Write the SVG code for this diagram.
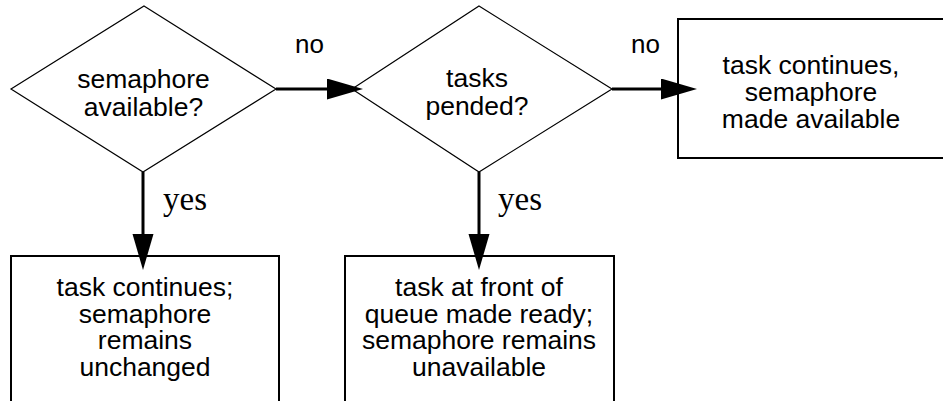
<svg xmlns="http://www.w3.org/2000/svg" width="943" height="401" viewBox="0 0 943 401">
<style>
.bg{fill:#fff}
.dia{fill:#fff;stroke:#000;stroke-width:1.2}
.box{fill:#fff;stroke:#000;stroke-width:2}
.t{font-family:"Liberation Sans",Arial,sans-serif;font-size:26.5px;fill:#000;text-anchor:middle}
.lbl{font-family:"Liberation Sans",Arial,sans-serif;font-size:26px;fill:#000}
.yes{font-family:"Liberation Serif","Times New Roman",serif;font-size:33px;fill:#000}
.con{fill:none;stroke:#000;stroke-width:3;marker-end:url(#ah)}
</style>
<defs>
<marker id="ah" markerUnits="userSpaceOnUse" markerWidth="36" markerHeight="22" refX="21" refY="10.5" orient="auto">
<path d="M0,0 L36,10.5 L0,21 z" fill="#000"/>
</marker>
</defs>
<rect class="bg" x="0" y="0" width="943" height="401"/>
<g id="d1">
<polygon class="dia" points="144,6 276,89 143,172 11,89"/>
<text class="t" x="143.5" y="88">semaphore</text>
<text class="t" x="143.5" y="116">available?</text>
</g>
<g id="d2">
<polygon class="dia" points="479,6 612,89 479,172 352,89"/>
<text class="t" x="477" y="87">tasks</text>
<text class="t" x="477" y="115">pended?</text>
</g>
<g id="b3">
<rect class="box" x="678" y="19" width="300" height="139"/>
<text class="t" x="811" y="74">task continues,</text>
<text class="t" x="811" y="101">semaphore</text>
<text class="t" x="811" y="128">made available</text>
</g>
<g id="b1">
<rect class="box" x="11" y="256" width="268" height="200"/>
<text class="t" x="145" y="296">task continues;</text>
<text class="t" x="145" y="323">semaphore</text>
<text class="t" x="145" y="349">remains</text>
<text class="t" x="145" y="376">unchanged</text>
</g>
<g id="b2">
<rect class="box" x="345" y="256" width="269" height="200"/>
<text class="t" x="479" y="296">task at front of</text>
<text class="t" x="479" y="323">queue made ready;</text>
<text class="t" x="479" y="349">semaphore remains</text>
<text class="t" x="479" y="376">unavailable</text>
</g>
<g id="connectors">
<path class="con" d="M276,89 L348,89"/>
<path class="con" d="M612,89 L682,89"/>
<path class="con" d="M143,172 L143,255"/>
<path class="con" d="M479,172 L479,255"/>
<text class="lbl" x="295" y="53">no</text>
<text class="lbl" x="631" y="53">no</text>
<text class="yes" x="163" y="210">yes</text>
<text class="yes" x="498" y="210">yes</text>
</g>
</svg>
